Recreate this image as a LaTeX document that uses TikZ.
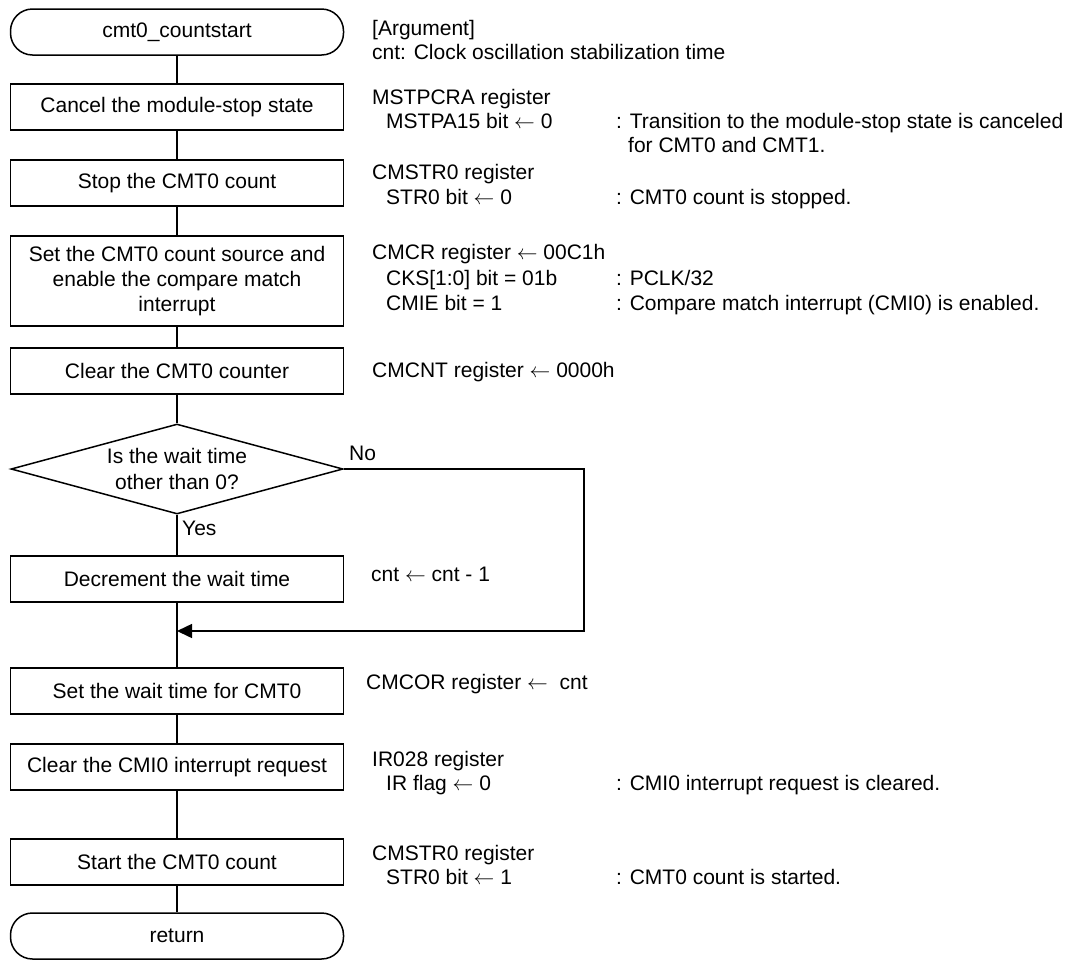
\documentclass[tikz,border=0pt]{standalone}
\usepackage{fontspec}
\setmainfont{Liberation Sans}
\usetikzlibrary{shapes.geometric}
\usetikzlibrary{arrows.meta}
\newcommand{\getsarrow}{$\leftarrow$}

\begin{document}
\begin{tikzpicture}[x=1pt,y=-1pt,font=\fontsize{21}{25}\selectfont]
		\tikzset{
			textnode/.style={anchor=base west,inner sep=0pt},
		}
		\tikzset{
			edge/.style={color=black,line width=1.5pt},
			procnode/.style={draw,line width=1.5pt,rectangle,minimum width=333pt,minimum height=46pt,inner sep=0pt,align=center},
			termnode/.style={procnode,rounded corners=22pt},
			decnode/.style={draw,line width=1.5pt,diamond,aspect=3.7,minimum width=332pt,minimum height=90pt,inner sep=0pt,align=center},
		}
		\newcommand{\cx}{177}
		\newcommand{\tx}{372}
		\newcommand{\sx}{386}
		\newcommand{\kx}{616}
		
		\useasboundingbox (0,0) rectangle (1075,959);
		
		% flow
		\node[termnode] (start) at (\cx,32) {cmt0\_countstart};
		\node[procnode] (cancel) at (\cx,107) {Cancel the module-stop state};
		\node[procnode] (stopcnt) at (\cx,183) {Stop the CMT0 count};
		\node[procnode,minimum height=90pt] (setsrc) at (\cx,281) {Set the CMT0 count source and\\enable the compare match\\interrupt};
		\node[procnode] (clrcnt) at (\cx,371) {Clear the CMT0 counter};
		\node[decnode,font=\fontsize{21}{26}\selectfont] (waitchk) at (\cx,469) {Is the wait time\\other than 0?};
		\node[procnode] (decwait) at (\cx,579) {Decrement the wait time};
		\coordinate (merge) at (\cx,631);
		\coordinate (loopc) at (584,631);
		\node[procnode] (setwait) at (\cx,691) {Set the wait time for CMT0};
		\node[procnode] (clrreq) at (\cx,767) {Clear the CMI0 interrupt request};
		\node[procnode] (startcnt) at (\cx,862) {Start the CMT0 count};
		\node[termnode] (ret) at (\cx,936) {return};
		
		\node[textnode] (nolbl) at (349,460.5) {No};
		\node[textnode] (yeslbl) at (182,535.5) {Yes};
		
		% notes
		\node[textnode] (arg) at (\tx,35.5) {[Argument]};
		\node[textnode] (argcnt) at (\tx,59.5) {cnt: Clock oscillation stabilization time};
		
		\node[textnode] (mstpcra) at (\tx,104.5) {MSTPCRA register};
		\node[textnode] (mstpa) at (\sx,128.5) {MSTPA15 bit \getsarrow\ 0};
		\node[textnode] (mstpanote) at (\kx,128.5) {: Transition to the module-stop state is canceled};
		\node[textnode] (mstpanoteb) at (\kx+12,152.5) {for CMT0 and CMT1.};
		
		\node[textnode] (cmstr) at (\tx,179.5) {CMSTR0 register};
		\node[textnode] (str) at (\sx,204.5) {STR0 bit \getsarrow\ 0};
		\node[textnode] (strnote) at (\kx,204.5) {: CMT0 count is stopped.};
		
		\node[textnode] (cmcr) at (\tx,259.5) {CMCR register \getsarrow\ 00C1h};
		\node[textnode] (cks) at (\sx,285.5) {CKS[1:0] bit = 01b};
		\node[textnode] (cksnote) at (\kx,285.5) {: PCLK/32};
		\node[textnode] (cmie) at (\sx,310.5) {CMIE bit = 1};
		\node[textnode] (cmienote) at (\kx,310.5) {: Compare match interrupt (CMI0) is enabled.};
		
		\node[textnode] (cmcnt) at (\tx,377.5) {CMCNT register \getsarrow\ 0000h};
		\node[textnode] (cntdec) at (371,581.5) {cnt \getsarrow\ cnt - 1};
		\node[textnode] (cmcor) at (366,689.5) {CMCOR register \getsarrow\ \ cnt};
		
		\node[textnode] (ir) at (\tx,766.5) {IR028 register};
		\node[textnode] (irflag) at (\sx,790.5) {IR flag \getsarrow\ 0};
		\node[textnode] (irnote) at (\kx,790.5) {: CMI0 interrupt request is cleared.};
		
		\node[textnode] (cmstrb) at (\tx,860.5) {CMSTR0 register};
		\node[textnode] (strb) at (\sx,884.5) {STR0 bit \getsarrow\ 1};
		\node[textnode] (strbnote) at (\kx,884.5) {: CMT0 count is started.};
		
		\draw[edge] (start) to (cancel);
		\draw[edge] (cancel) to (stopcnt);
		\draw[edge] (stopcnt) to (setsrc);
		\draw[edge] (setsrc) to (clrcnt);
		\draw[edge] (clrcnt) to (waitchk);
		\draw[edge] (waitchk) to (decwait);
		\draw[edge] (decwait) to (setwait);
		\draw[edge,-{Triangle[length=15pt,width=14pt]}] (waitchk.east) -| (loopc) -- (merge);
		\draw[edge] (setwait) to (clrreq);
		\draw[edge] (clrreq) to (startcnt);
		\draw[edge] (startcnt) to (ret);
	\end{tikzpicture}
\end{document}
